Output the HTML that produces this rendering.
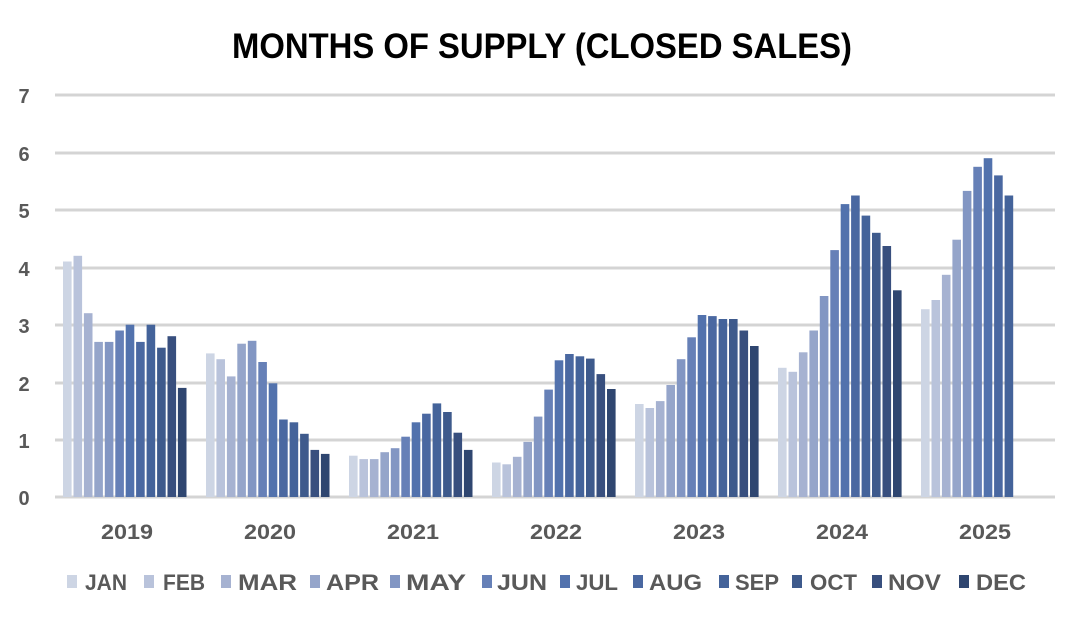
<!DOCTYPE html>
<html><head><meta charset="utf-8"><style>
body{margin:0;background:#fff;}
svg{display:block;font-family:"Liberation Sans",Arial,sans-serif;}
</style></head><body>
<svg id="c" width="1084" height="622" viewBox="0 0 1084 622">
<text x="542" y="58" text-anchor="middle" font-size="35" font-weight="bold" fill="#000" textLength="620" lengthAdjust="spacingAndGlyphs">MONTHS OF SUPPLY (CLOSED SALES)</text>
<g stroke="#d4d4d4" stroke-width="3">
<line x1="55" x2="1055" y1="95" y2="95"/><line x1="55" x2="1055" y1="153" y2="153"/>
<line x1="55" x2="1055" y1="210" y2="210"/><line x1="55" x2="1055" y1="268" y2="268"/>
<line x1="55" x2="1055" y1="325" y2="325"/><line x1="55" x2="1055" y1="383" y2="383"/>
<line x1="55" x2="1055" y1="440" y2="440"/><line x1="55" x2="1055" y1="497" y2="497"/>
</g>
<g font-size="20" font-weight="bold" fill="#595959" text-anchor="middle">
<text x="24" y="103">7</text><text x="24" y="161">6</text><text x="24" y="218">5</text>
<text x="24" y="276">4</text><text x="24" y="333">3</text><text x="24" y="391">2</text>
<text x="24" y="448">1</text><text x="24" y="505">0</text>
</g>
<g font-size="21" font-weight="bold" fill="#595959" text-anchor="middle">
<text x="127" y="539" textLength="52" lengthAdjust="spacingAndGlyphs">2019</text><text x="270" y="539" textLength="52" lengthAdjust="spacingAndGlyphs">2020</text><text x="413" y="539" textLength="52" lengthAdjust="spacingAndGlyphs">2021</text>
<text x="556" y="539" textLength="52" lengthAdjust="spacingAndGlyphs">2022</text><text x="699" y="539" textLength="52" lengthAdjust="spacingAndGlyphs">2023</text><text x="842" y="539" textLength="52" lengthAdjust="spacingAndGlyphs">2024</text><text x="985" y="539" textLength="52" lengthAdjust="spacingAndGlyphs">2025</text>
</g>
<g id="bars"></g>
<g font-size="22" font-weight="bold" fill="#595959">
<rect x="67" y="575" width="10" height="13" fill="#cdd5e4"/><text x="85" y="590" textLength="42" lengthAdjust="spacingAndGlyphs">JAN</text>
<rect x="144" y="575" width="10" height="13" fill="#b9c3db"/><text x="163" y="590" textLength="42" lengthAdjust="spacingAndGlyphs">FEB</text>
<rect x="221" y="575" width="10" height="13" fill="#a6b2d1"/><text x="238" y="590" textLength="59" lengthAdjust="spacingAndGlyphs">MAR</text>
<rect x="310" y="575" width="10" height="13" fill="#95a5ca"/><text x="326" y="590" textLength="53" lengthAdjust="spacingAndGlyphs">APR</text>
<rect x="390" y="575" width="10" height="13" fill="#8296c3"/><text x="406" y="590" textLength="60" lengthAdjust="spacingAndGlyphs">MAY</text>
<rect x="482" y="575" width="10" height="13" fill="#6680b7"/><text x="497" y="590" textLength="50" lengthAdjust="spacingAndGlyphs">JUN</text>
<rect x="560" y="575" width="10" height="13" fill="#5272ad"/><text x="576" y="590" textLength="42" lengthAdjust="spacingAndGlyphs">JUL</text>
<rect x="633" y="575" width="10" height="13" fill="#4a68a1"/><text x="649" y="590" textLength="53" lengthAdjust="spacingAndGlyphs">AUG</text>
<rect x="719" y="575" width="10" height="13" fill="#44639a"/><text x="735" y="590" textLength="44" lengthAdjust="spacingAndGlyphs">SEP</text>
<rect x="792" y="575" width="10" height="13" fill="#3e5a8c"/><text x="810" y="590" textLength="47" lengthAdjust="spacingAndGlyphs">OCT</text>
<rect x="872" y="575" width="10" height="13" fill="#384f7e"/><text x="888" y="590" textLength="53" lengthAdjust="spacingAndGlyphs">NOV</text>
<rect x="959" y="575" width="10" height="13" fill="#2f4670"/><text x="976" y="590" textLength="50" lengthAdjust="spacingAndGlyphs">DEC</text>
</g>
</svg>
<script>
var cols=["#cdd5e4","#b9c3db","#a6b2d1","#95a5ca","#8296c3","#6680b7","#5272ad","#4a68a1","#44639a","#3e5a8c","#384f7e","#2f4670"];
var d=[[4.1,4.2,3.2,2.7,2.7,2.9,3.0,2.7,3.0,2.6,2.8,1.9],
[2.5,2.4,2.1,2.67,2.72,2.35,1.98,1.35,1.3,1.1,0.82,0.75],
[0.72,0.66,0.66,0.78,0.85,1.05,1.3,1.45,1.63,1.48,1.12,0.82],
[0.6,0.57,0.7,0.96,1.4,1.87,2.38,2.49,2.45,2.41,2.14,1.88],
[1.62,1.55,1.67,1.95,2.4,2.78,3.17,3.15,3.1,3.1,2.9,2.63],
[2.25,2.18,2.52,2.9,3.5,4.3,5.1,5.25,4.9,4.6,4.37,3.6],
[3.27,3.43,3.87,4.48,5.33,5.75,5.9,5.6,5.25]];
var s="",u=(497-95)/7;
for(var g=0;g<d.length;g++)for(var m=0;m<d[g].length;m++){
var x=63+143*g+m*10.45,h=d[g][m]*u;
s+='<rect x="'+x.toFixed(1)+'" y="'+(497-h).toFixed(1)+'" width="8.6" height="'+h.toFixed(1)+'" fill="'+cols[m]+'"/>';}
document.getElementById("bars").innerHTML=s;
</script>
</body></html>
